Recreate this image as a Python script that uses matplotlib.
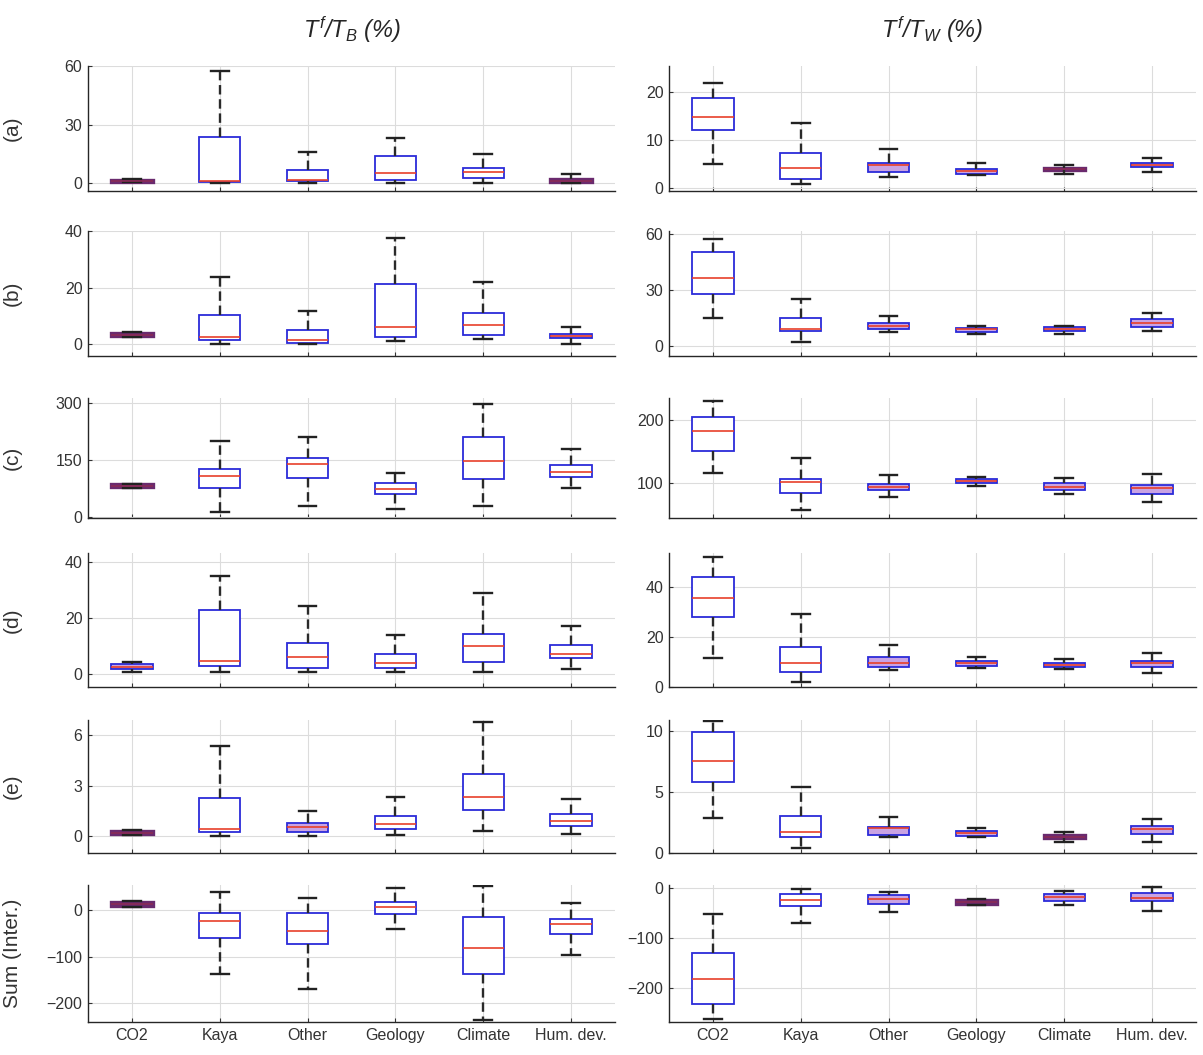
import matplotlib
matplotlib.use("Agg")
import matplotlib.pyplot as plt

plt.rcParams['font.family'] = ['Liberation Sans', 'DejaVu Sans']
plt.rcParams['mathtext.fontset'] = 'custom'
plt.rcParams['mathtext.it'] = 'Liberation Sans:italic'
plt.rcParams['mathtext.rm'] = 'Liberation Sans:italic'

categories = ['CO2', 'Kaya', 'Other', 'Geology', 'Climate', 'Hum. dev.']
row_labels = ['(a)', '(b)', '(c)', '(d)', '(e)', 'Sum (Inter.)']
col_titles = [r'$T^f/T_B\ (\%)$', r'$T^f/T_W\ (\%)$']

# five-number summaries per category: whisker low, q1, median, q3, whisker high
tb_a = [[0.3, 0.6, 1.0, 1.6, 2.0], [0.0, 0.7, 1.0, 23.8, 57.6], [0.0, 0.8, 1.5, 6.7, 15.7],
        [0.0, 1.5, 5.3, 14.0, 22.9], [0.0, 2.7, 5.5, 7.9, 14.9], [0.0, 0.5, 1.2, 1.9, 4.6]]
tb_b = [[2.4, 2.8, 3.3, 3.8, 4.3], [0.0, 1.4, 2.6, 10.3, 23.8], [0.0, 0.25, 1.4, 5.0, 11.8],
        [1.1, 2.4, 5.9, 21.2, 37.4], [1.7, 3.2, 6.7, 10.9, 22.0], [0.0, 2.0, 3.0, 3.5, 5.9]]
tb_c = [[77, 79, 82, 86, 88], [12, 77, 108, 125, 201], [30, 102, 139, 154, 210],
        [20, 60, 74, 89, 115], [30, 99, 148, 211, 297], [75, 106, 118, 137, 178]]
tb_d = [[0.6, 1.8, 2.6, 3.6, 4.4], [0.6, 2.9, 4.6, 22.9, 35.0], [0.6, 2.0, 6.2, 11.0, 24.4],
        [0.6, 2.0, 3.8, 7.0, 13.8], [0.6, 4.4, 10.0, 14.2, 28.8], [1.8, 5.6, 7.0, 10.4, 17.3]]
tb_e = [[0.05, 0.12, 0.2, 0.28, 0.35], [0.02, 0.22, 0.45, 2.28, 5.35], [0.0, 0.26, 0.55, 0.79, 1.5],
        [0.06, 0.42, 0.75, 1.19, 2.34], [0.32, 1.54, 2.3, 3.72, 6.79], [0.12, 0.61, 0.91, 1.31, 2.18]]
tb_sum = [[6, 9, 12, 16, 18], [-138, -61, -25, -7, 37], [-169, -73, -45, -7, 25],
          [-41, -9, 6, 16, 46], [-236, -138, -81, -16, 50], [-96, -51, -30, -19, 14]]

tw_a = [[4.9, 12.1, 14.7, 18.7, 21.8], [0.8, 1.8, 4.2, 7.2, 13.5], [2.2, 3.3, 4.8, 5.1, 8.1],
        [2.6, 2.9, 3.5, 3.9, 5.1], [2.9, 3.6, 3.9, 4.1, 4.8], [3.2, 4.3, 4.8, 5.1, 6.2]]
tw_b = [[15.0, 27.9, 36.6, 50.1, 57.3], [2.3, 8.3, 9.0, 15.3, 25.2], [7.7, 9.2, 10.8, 12.6, 16.4],
        [6.8, 7.4, 9.0, 9.7, 11.0], [6.3, 8.1, 9.3, 10.1, 11.0], [8.3, 10.1, 12.3, 14.6, 17.7]]
tw_c = [[116, 151, 182, 204, 231], [57, 83, 101, 106, 140], [77, 88, 94, 98, 112],
        [95, 99.5, 103, 106, 110], [82, 88, 94, 99.5, 108], [70, 82, 91, 97, 114]]
tw_d = [[11.7, 28.1, 35.5, 43.9, 51.9], [2.1, 6.1, 9.5, 15.9, 29.1], [6.8, 8.1, 9.7, 11.9, 16.8],
        [7.7, 8.5, 9.7, 10.4, 12.1], [7.1, 7.9, 8.8, 9.5, 11.1], [5.7, 8.1, 9.5, 10.4, 13.5]]
tw_e = [[2.84, 5.8, 7.5, 9.9, 10.85], [0.38, 1.34, 1.7, 3.03, 5.4], [1.34, 1.48, 2.02, 2.16, 2.98],
        [1.3, 1.39, 1.66, 1.83, 2.07], [0.93, 1.2, 1.34, 1.48, 1.7], [0.88, 1.53, 1.97, 2.24, 2.76]]
tw_sum = [[-261, -232, -182, -129, -51], [-69, -35, -23, -11, -1], [-47, -31, -21, -14, -7],
          [-33, -31, -27, -24, -22], [-34, -25, -17, -11, -5], [-45, -25, -19, -9, 3]]

left_panels = [tb_a, tb_b, tb_c, tb_d, tb_e, tb_sum]
right_panels = [tw_a, tw_b, tw_c, tw_d, tw_e, tw_sum]

left_ylims = [(-4.1, 60), (-4.2, 40), (-2.6, 313), (-4.6, 43.2), (-1.0, 6.9), (-240, 53)]
right_ylims = [(-0.7, 25.4), (-5.2, 61.5), (44, 235), (0, 53.6), (0, 10.9), (-268, 6)]
left_yticks = [[0, 30, 60], [0, 20, 40], [0, 150, 300], [0, 20, 40], [0, 3, 6], [-200, -100, 0]]
right_yticks = [[0, 10, 20], [0, 30, 60], [100, 200], [0, 20, 40], [0, 5, 10], [-200, -100, 0]]

W, H = 1203, 1055
rows_px = [(66, 191), (231, 356), (398, 518), (553, 687), (720, 853), (885, 1022)]
cols_px = [(88, 615), (669, 1196)]

fig = plt.figure(figsize=(W / 100, H / 100), dpi=100)


def draw_panel(ax, data, ylim, yticks, h_px, show_x):
    stats = []
    for name, (lo, q1, med, q3, hi) in zip(categories, data):
        stats.append(dict(label=name, whislo=lo, q1=q1, med=med, q3=q3, whishi=hi, fliers=[]))
    bp = ax.bxp(stats, positions=range(1, 7), widths=0.47, capwidths=0.2,
                patch_artist=True, showfliers=False,
                boxprops=dict(edgecolor='#2b2bd9', linewidth=1.3, facecolor='white'),
                medianprops=dict(color='#e8402a', linewidth=1.2),
                whiskerprops=dict(color='#2a2a2a', linewidth=1.7, linestyle=(0, (4, 2))),
                capprops=dict(color='#222222', linewidth=1.7))
    # narrow boxes blur into purple in the original
    for patch, med_line, (lo, q1, med, q3, hi) in zip(bp['boxes'], bp['medians'], data):
        bh = (q3 - q1) / (ylim[1] - ylim[0]) * h_px
        if bh < 3.6:
            patch.set_facecolor('#6a2a6e')
            patch.set_edgecolor('#6a2a6e')
            patch.set_linewidth(2.4)
            med_line.set_color('#8a2a55')
        elif bh < 10:
            patch.set_facecolor('#c9a3e3')
    ax.set_xlim(0.5, 6.5)
    ax.set_ylim(*ylim)
    ax.set_yticks(yticks)
    ax.set_xticks(range(1, 7))
    if show_x:
        ax.set_xticklabels(categories)
    else:
        ax.set_xticklabels([])
    ax.grid(True, color='#dcdcdc', linewidth=0.8)
    ax.set_axisbelow(True)
    for s in ['top', 'right']:
        ax.spines[s].set_visible(False)
    for s in ['left', 'bottom']:
        ax.spines[s].set_color('#262626')
        ax.spines[s].set_linewidth(1.0)
    ax.tick_params(direction='in', length=3, labelsize=11.5, colors='#333333', pad=4)


for ci, (panels, ylims, yticks) in enumerate([(left_panels, left_ylims, left_yticks),
                                               (right_panels, right_ylims, right_yticks)]):
    x0, x1 = cols_px[ci]
    for ri in range(6):
        y0, y1 = rows_px[ri]
        ax = fig.add_axes([x0 / W, 1 - y1 / H, (x1 - x0) / W, (y1 - y0) / H])
        draw_panel(ax, panels[ri], ylims[ri], yticks[ri], y1 - y0, ri == 5)
        if ci == 0:
            ax.set_ylabel(row_labels[ri], fontsize=15, color='#333333')
            ax.yaxis.set_label_coords(-66 / (x1 - x0), 0.5)
        if ri == 0:
            ax.set_title(col_titles[ci], fontsize=17, color='#262626', pad=20)

fig.savefig('out.png', dpi=100)
